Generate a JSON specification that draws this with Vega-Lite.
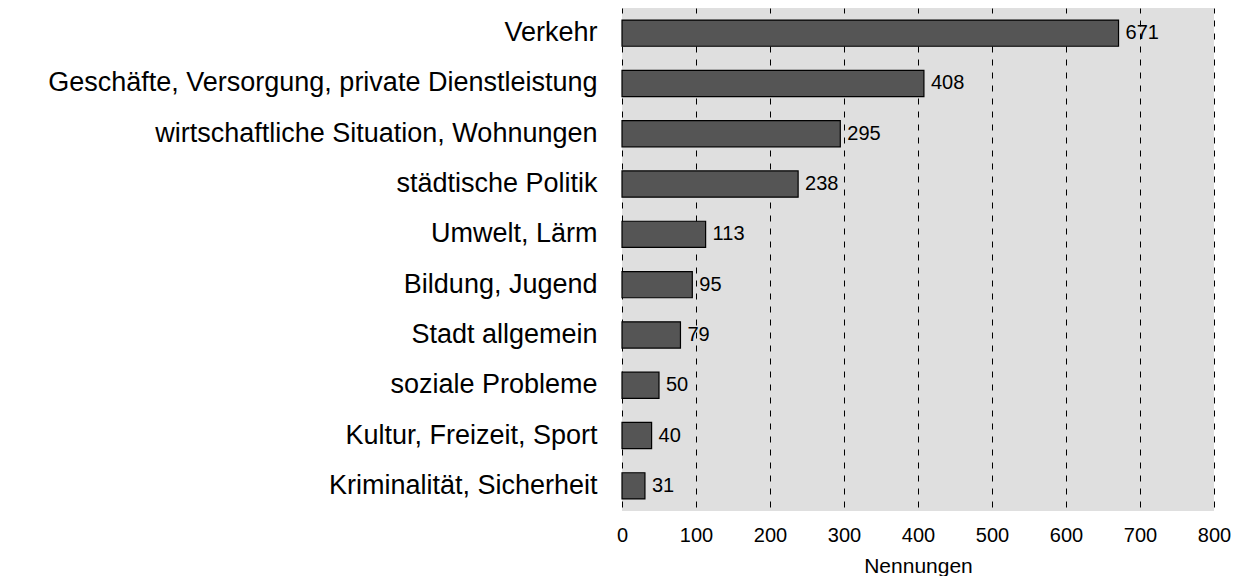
{
  "$schema": "https://vega.github.io/schema/vega-lite/v6.json",
  "width": 592,
  "height": 503,
  "autosize": {"type": "none"},
  "padding": {"left": 622, "top": 8, "right": 27, "bottom": 65},
  "background": "white",
  "config": {
    "view": {"fill": "#dfdfdf", "stroke": null},
    "font": "Liberation Sans"
  },
  "data": {
    "values": [
      {"Thema": "Verkehr", "Nennungen": 671},
      {"Thema": "Geschäfte, Versorgung, private Dienstleistung", "Nennungen": 408},
      {"Thema": "wirtschaftliche Situation, Wohnungen", "Nennungen": 295},
      {"Thema": "städtische Politik", "Nennungen": 238},
      {"Thema": "Umwelt, Lärm", "Nennungen": 113},
      {"Thema": "Bildung, Jugend", "Nennungen": 95},
      {"Thema": "Stadt allgemein", "Nennungen": 79},
      {"Thema": "soziale Probleme", "Nennungen": 50},
      {"Thema": "Kultur, Freizeit, Sport", "Nennungen": 40},
      {"Thema": "Kriminalität, Sicherheit", "Nennungen": 31}
    ]
  },
  "encoding": {
    "y": {
      "field": "Thema",
      "type": "nominal",
      "sort": null,
      "title": null,
      "scale": {"paddingInner": 0.48, "paddingOuter": 0.24},
      "axis": {
        "domain": false,
        "ticks": false,
        "labelFontSize": 27,
        "labelColor": "black",
        "labelPadding": 25,
        "labelLimit": 700
      }
    },
    "x": {
      "field": "Nennungen",
      "type": "quantitative",
      "scale": {"domain": [0, 800], "nice": false},
      "title": "Nennungen",
      "axis": {
        "values": [0, 100, 200, 300, 400, 500, 600, 700, 800],
        "domain": false,
        "ticks": false,
        "grid": true,
        "gridColor": "black",
        "gridDash": [6, 7],
        "gridDashOffset": -4,
        "gridOpacity": 1,
        "gridWidth": 1,
        "labelFlush": false,
        "labelFontSize": 20,
        "labelColor": "black",
        "labelPadding": 14,
        "titleFontSize": 21,
        "titleFontWeight": "normal",
        "titleColor": "black",
        "titlePadding": 10
      }
    }
  },
  "layer": [
    {
      "mark": {"type": "bar", "color": "#555555", "stroke": "black", "strokeWidth": 1.2}
    },
    {
      "mark": {"type": "text", "align": "left", "baseline": "middle", "dx": 7, "fontSize": 20, "color": "black"},
      "encoding": {"text": {"field": "Nennungen", "type": "quantitative"}}
    }
  ]
}
